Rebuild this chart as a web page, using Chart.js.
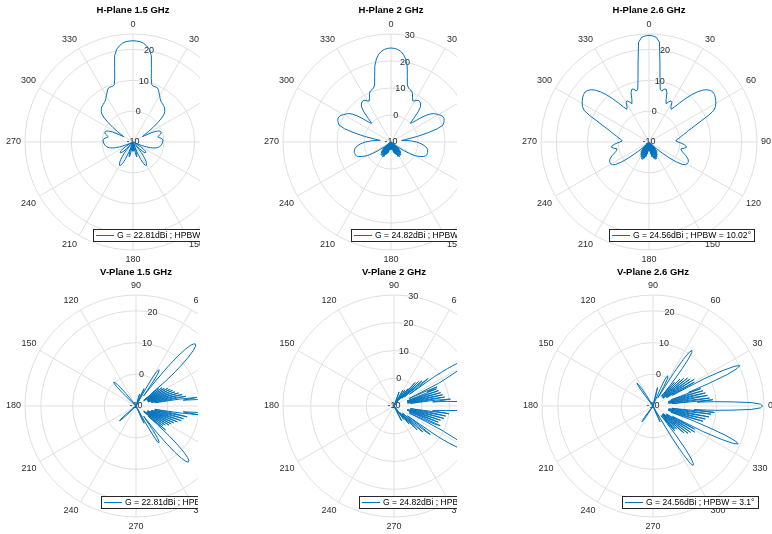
<!DOCTYPE html>
<html>
<head>
<meta charset="utf-8">
<script src="https://cdn.jsdelivr.net/npm/chart.js@4.4.1/dist/chart.umd.min.js"></script>
<style>
  html, body { margin: 0; padding: 0; background: #fff; }
  #fig { position: relative; width: 772px; height: 534px; overflow: hidden; background: #fff; }
  #fig canvas.ax { position: absolute; background: #fff; }
</style>
</head>
<body>
<div id="fig"></div>
<script>
// ---- chart text -------------------------------------------------------------
const panelTitles = [
  ['H-Plane 1.5 GHz', 'H-Plane 2 GHz', 'H-Plane 2.6 GHz'],
  ['V-Plane 1.5 GHz', 'V-Plane 2 GHz', 'V-Plane 2.6 GHz']
];
const peakGain = [22.81, 24.82, 24.56];      // dBi, per frequency
const hpbwH = [17.36, 13.03, 10.02];          // deg, H-plane
const hpbwV = [5.44, 4.12, 3.1];              // deg, V-plane

// ---- axes -------------------------------------------------------------------
const rMaxByFreq = [25, 30, 25];
const rRingsByFreq = [[-10, 0, 10, 20, 25], [-10, 0, 10, 20, 30], [-10, 0, 10, 20, 25]];
const rTickLabelsByFreq = [[-10, 0, 10, 20], [-10, 0, 10, 20, 30], [-10, 0, 10, 20]];
const thetaTickLabels = [0, 30, 60, 90, 120, 150, 180, 210, 240, 270, 300, 330];

// H-plane cut: 2 deg sampling, 0 deg at top, clockwise
const hAngles = Array.from({length: 180}, (_, i) => 2 * i);
// V-plane cut: 1 deg sampling, 0 deg at right, counter-clockwise
// (listed in drawing order, starting from 90 deg at the top)
const vAngles = Array.from({length: 360}, (_, i) => (450 - i) % 360);

// ---- gain patterns (dBi) -----------------------------------------------------
// H-plane, index k -> angle 2k
const hGain15 = [
  22.81, 22.75, 22.6, 22.2, 21.5, 20.5, 18.6, 14.6, 11.5, 9.6,
  9.2, 9.3, 9.3, 8.8, 8.0, 7.3, 6.6, 6.1, 5.8, 5.6,
  5.4, 5.2, 4.8, 4.3, 3.6, 2.2, 0.2, -2.0, -4.0, -5.5,
  -6.5, -5.0, -2.5, -1.2, -0.6, -0.4, -0.4, -0.7, -1.3, -1.8,
  -1.5, -0.9, -0.5, -0.3, -0.3, -0.4, -0.5, -0.6, -0.8, -1.0,
  -1.3, -1.7, -2.2, -3.0, -4.0, -5.3, -7.0, -8.8, -10, -10,
  -8.5, -7.0, -6.0, -5.3, -4.8, -4.6, -4.8, -5.5, -7.0, -9.0,
  -8.0, -5.5, -3.8, -2.5, -1.7, -1.3, -1.4, -2.2, -3.8, -6.5,
  -10, -7.0, -5.5, -5.0, -6.0, -8.5, -10, -7.5, -7.0, -9.0,
  -10,
  -9.0, -7.0, -7.5, -10, -8.5, -6.0, -5.0, -5.5, -7.0, -10,
  -6.5, -3.8, -2.2, -1.4, -1.3, -1.7, -2.5, -3.8, -5.5, -8.0,
  -9.0, -7.0, -5.5, -4.8, -4.6, -4.8, -5.3, -6.0, -7.0, -8.5,
  -10, -10, -8.8, -7.0, -5.3, -4.0, -3.0, -2.2, -1.7, -1.3,
  -1.0, -0.8, -0.6, -0.5, -0.4, -0.3, -0.3, -0.5, -0.9, -1.5,
  -1.8, -1.3, -0.7, -0.4, -0.4, -0.6, -1.2, -2.5, -5.0, -6.5,
  -5.5, -4.0, -2.0, 0.2, 2.2, 3.6, 4.3, 4.8, 5.2, 5.4,
  5.6, 5.8, 6.1, 6.6, 7.3, 8.0, 8.8, 9.3, 9.3, 9.2,
  9.6, 11.5, 14.6, 18.6, 20.5, 21.5, 22.2, 22.6, 22.75
];
const hGain20 = [
  24.82, 24.7, 24.4, 23.8, 22.8, 21.2, 18.8, 15.0, 12.0, 11.0,
  10.6, 10.4, 9.6, 8.2, 7.2, 7.6, 8.2, 8.5, 8.3, 7.8,
  7.0, 5.0, 2.0, 0.0, 0.8, 3.0, 5.5, 7.5, 8.8, 9.6,
  10.3, 11.0, 11.4, 11.5, 11.2, 10.8, 10.2, 8.0, 4.0, 0.0,
  -4.0, -6.0, -5.0, -3.0, -2.0, -0.5, 0.5, 1.5, 2.3, 3.0,
  3.5, 3.8, 4.0, 4.1, 4.1, 4.0, 3.8, 3.2, 2.3, 1.2,
  0.0, -2.0, -4.5, -7.0, -10, -6.0, -10, -5.0, -10, -4.5,
  -10, -4.0, -10, -4.0, -10, -3.7, -10, -4.0, -10, -5.0,
  -10, -5.5, -10, -6.0, -10, -7.0, -10, -7.0, -10, -8.0,
  -10,
  -8.0, -10, -7.0, -10, -7.0, -10, -6.0, -10, -5.5, -10,
  -5.0, -10, -4.0, -10, -3.7, -10, -4.0, -10, -4.0, -10,
  -4.5, -10, -5.0, -10, -6.0, -10, -7.0, -4.5, -2.0, 0.0,
  1.2, 2.3, 3.2, 3.8, 4.0, 4.1, 4.1, 4.0, 3.8, 3.5,
  3.0, 2.3, 1.5, 0.5, -0.5, -2.0, -3.0, -5.0, -6.0, -4.0,
  0.0, 4.0, 8.0, 10.2, 10.8, 11.2, 11.5, 11.4, 11.0, 10.3,
  9.6, 8.8, 7.5, 5.5, 3.0, 0.8, 0.0, 2.0, 5.0, 7.0,
  7.8, 8.3, 8.5, 8.2, 7.6, 7.2, 8.2, 9.6, 10.4, 10.6,
  11.0, 12.0, 15.0, 18.8, 21.2, 22.8, 23.8, 24.4, 24.7
];
const hGain26 = [
  24.56, 24.4, 24.0, 22.5, 15.5, 10.5, 7.5, 7.0, 7.8, 8.0,
  7.0, 4.8, 3.6, 4.4, 5.1, 4.8, 3.4, 2.8, 4.0, 6.0,
  8.3, 10.6, 12.6, 14.2, 15.3, 16.0, 16.3, 16.2, 15.9, 15.5,
  15.0, 14.4, 13.4, 11.0, 8.2, 6.2, 4.6, 3.2, 2.3, 1.4,
  0.6, 0.0, -0.6, -1.1, -1.3, -0.6, 0.4, 1.3, 2.0, 2.3,
  1.6, 0.6, 0.8, 1.2, 1.8, 2.6, 3.3, 3.9, 4.2, 4.3,
  4.2, 3.9, 3.0, 1.0, -1.5, -4.5, -7.0, -10, -7.0, -10,
  -6.0, -10, -5.5, -10, -5.0, -10, -4.5, -10, -4.0, -10,
  -4.0, -10, -4.5, -10, -5.0, -10, -6.0, -10, -7.0, -10,
  -10,
  -10, -7.0, -10, -6.0, -10, -5.0, -10, -4.5, -10, -4.0,
  -10, -4.0, -10, -4.5, -10, -5.0, -10, -5.5, -10, -6.0,
  -10, -7.0, -10, -7.0, -4.5, -1.5, 1.0, 3.0, 3.9, 4.2,
  4.3, 4.2, 3.9, 3.3, 2.6, 1.8, 1.2, 0.8, 0.6, 1.6,
  2.3, 2.0, 1.3, 0.4, -0.6, -1.3, -1.1, -0.6, 0.0, 0.6,
  1.4, 2.3, 3.2, 4.6, 6.2, 8.2, 11.0, 13.4, 14.4, 15.0,
  15.5, 15.9, 16.2, 16.3, 16.0, 15.3, 14.2, 12.6, 10.6, 8.3,
  6.0, 4.0, 2.8, 3.4, 4.8, 5.1, 4.4, 3.6, 4.8, 7.0,
  8.0, 7.8, 7.0, 7.5, 10.5, 15.5, 22.5, 24.0, 24.4
];

// V-plane, index = angle in deg (0..359)
const vGain15 = [
  22.81, 22.4, 21.4, 19.5, 17.0, 13.5, 9.5, 5.0, 9.4, 4.0,
  -4.0, 6.0, 3.0, -5.0, 5.0, 1.0, -5.0, 4.0, 0.0, -6.0,
  3.0, -1.0, -6.0, 2.5, -2.0, -6.0, 2.0, -3.0, -6.0, 1.5,
  -4.0, -6.0, 0.5, -4.0, -7.0, 0.0, -5.0, -7.0, -1.0, -4.0,
  2.0, 6.0, 9.5, 12.5, 15.0, 16.5, 17.1, 16.8, 15.8, 13.8,
  10.5, 6.0, 0.0, -6.0, -4.0, 0.0, 2.5, 3.4, 3.5, 2.5,
  0.0, -5.0, -10, -8.0, -5.0, -4.0, -6.0, -10, -10, -10,
  -10, -10, -8.0, -6.0, -7.0, -10, -10, -10, -10, -10,
  -10, -10, -10, -10, -10, -10, -10, -10, -10, -10,
  -10, -10, -10, -10, -10, -10, -10, -10, -10, -10,
  -10, -10, -10, -10, -10, -10, -10, -10, -10, -10,
  -10, -10, -10, -10, -10, -10, -10, -10, -10, -10,
  -10, -10, -10, -10, -10, -10, -10, -10, -8.0, -5.0,
  -2.5, -1.0, 0.0, 0.3, 0.0, -1.5, -4.0, -8.0, -10, -10,
  -10, -10, -10, -10, -10, -10, -10, -10, -10, -10,
  -10, -10, -10, -10, -10, -10, -10, -10, -10, -10,
  -10, -10, -10, -10, -10, -10, -10, -10, -10, -10,
  -10, -10, -10, -10, -10, -10, -10, -10, -10, -10,
  -10, -10, -10, -10, -10, -10, -10, -10, -10, -10,
  -10, -10, -10, -10, -10, -10, -10, -10, -10, -10,
  -10, -10, -10, -10, -10, -10, -10, -10, -10, -10,
  -10, -10, -10, -10, -10, -10, -10, -10, -10, -8.0,
  -5.0, -3.5, -3.0, -3.5, -5.5, -9.0, -10, -10, -10, -10,
  -10, -10, -10, -10, -10, -10, -10, -10, -10, -10,
  -10, -10, -10, -10, -10, -10, -10, -10, -10, -10,
  -10, -10, -10, -10, -10, -10, -10, -10, -10, -10,
  -10, -10, -10, -10, -10, -10, -10, -10, -10, -10,
  -10, -10, -10, -10, -10, -10, -10, -10, -10, -10,
  -10, -10, -10, -10, -10, -10, -10, -10, -10, -10,
  -10, -10, -10, -10, -6.0, -4.0, -4.5, -8.0, -10, -5.0,
  0.0, 3.0, 3.7, 3.3, 2.0, -1.0, -5.0, -6.0, 0.0, 5.0,
  9.0, 11.8, 13.5, 14.2, 14.0, 13.0, 11.0, 8.0, 4.0, -1.0,
  -5.0, 2.0, -4.0, -7.0, 0.5, -4.0, -7.0, 1.0, -3.0, -6.0,
  2.0, -2.0, -6.0, 2.5, -1.0, -6.0, 3.0, -1.0, -6.0, 4.0,
  0.5, -5.0, 5.0, 1.0, -5.0, 5.5, 2.0, -4.0, 6.5, 2.0,
  -4.0, 4.0, 9.7, 5.0, 9.5, 13.5, 17.0, 19.5, 21.4, 22.4
];
const vGain20 = [
  24.82, 24.3, 22.0, 18.0, 13.0, 9.0, 4.0, 10.5, 5.0, -4.0,
  8.5, 4.0, -5.0, 8.0, 3.0, -5.0, 7.5, 2.0, -5.0, 7.0,
  1.0, -5.0, 6.5, 3.0, 7.0, 2.0, -4.0, 8.0, 12.0, 16.5,
  19.0, 20.0, 20.2, 19.5, 17.5, 13.5, 8.0, -3.0, 3.5, 5.7,
  1.0, -5.0, 3.5, -2.0, -6.0, 2.5, -3.0, -6.0, 1.4, -3.0,
  -7.0, -2.0, -5.0, -8.0, -10, -4.0, -3.0, -8.0, -10, -10,
  -5.0, -3.5, -6.0, -10, -10, -10, -10, -10, -10, -7.0,
  -4.6, -7.0, -10, -10, -10, -10, -10, -10, -10, -10,
  -10, -10, -10, -10, -10, -10, -10, -10, -10, -10,
  -10, -10, -10, -10, -10, -10, -10, -10, -10, -10,
  -10, -10, -10, -10, -10, -10, -10, -10, -10, -10,
  -10, -10, -10, -10, -10, -10, -10, -10, -10, -10,
  -10, -10, -10, -10, -10, -10, -10, -10, -10, -10,
  -10, -10, -10, -10, -10, -10, -10, -10, -10, -10,
  -10, -10, -10, -10, -10, -10, -10, -10, -10, -10,
  -10, -10, -10, -10, -10, -10, -10, -10, -10, -10,
  -10, -10, -10, -10, -10, -10, -10, -10, -10, -10,
  -10, -10, -10, -10, -10, -10, -10, -10, -10, -10,
  -10, -10, -10, -10, -10, -10, -10, -10, -10, -10,
  -10, -10, -10, -10, -10, -10, -10, -10, -10, -10,
  -10, -10, -10, -10, -10, -10, -10, -10, -10, -10,
  -10, -10, -10, -10, -10, -10, -10, -10, -10, -10,
  -10, -10, -10, -10, -10, -10, -10, -10, -10, -10,
  -10, -10, -10, -10, -10, -10, -10, -10, -10, -10,
  -10, -10, -10, -10, -10, -10, -10, -10, -10, -10,
  -10, -10, -10, -10, -10, -10, -10, -10, -10, -10,
  -10, -10, -10, -10, -10, -10, -10, -10, -10, -10,
  -10, -10, -10, -10, -10, -10, -10, -10, -10, -10,
  -10, -10, -10, -10, -10, -10, -10, -10, -10, -10,
  -10, -10, -10, -10, -10, -10, -6.0, -4.0, -6.0, -10,
  -10, -10, -10, -10, -10, -7.0, -4.0, -6.0, -10, -4.0,
  -1.5, -4.0, -7.0, -2.0, 2.0, -3.0, -6.0, 1.0, 4.0, -2.0,
  -6.0, 5.0, 6.6, 1.0, -4.0, 9.0, 14.0, 17.5, 19.5, 20.5,
  20.2, 18.5, 15.0, 10.0, 3.0, -4.0, 6.0, 8.1, 2.0, -4.0,
  7.0, 2.0, -5.0, 7.5, 2.0, -5.0, 8.5, 3.0, -4.0, 9.0,
  4.0, -4.0, 10.0, 4.0, 5.0, 9.0, 13.0, 18.0, 22.0, 24.3
];
const vGain26 = [
  24.56, 23.9, 21.0, 15.0, 9.5, 4.0, 9.0, -4.0, 8.0, 2.0,
  -5.0, 7.5, 3.0, -5.0, 7.0, 2.0, -5.0, 6.5, 1.0, -4.0,
  6.0, 2.0, 9.0, 15.5, 19.0, 20.2, 18.5, 14.5, 8.5, -3.0,
  5.0, 0.0, -5.0, 5.5, 0.0, -5.0, 4.5, -1.0, -6.0, 4.0,
  -2.0, -6.0, 3.0, -3.0, -6.0, 2.0, -4.0, -5.0, 0.0, -6.0,
  -3.0, 1.0, 5.0, 8.5, 10.8, 11.4, 10.5, 7.5, 2.0, -6.0,
  -7.0, -3.0, -0.5, 0.3, 0.6, 0.3, -1.0, -4.0, -8.0, -10,
  -10, -10, -10, -10, -10, -6.0, -4.0, -5.0, -9.0, -10,
  -10, -10, -10, -10, -10, -10, -10, -10, -10, -10,
  -10, -10, -10, -10, -10, -10, -10, -10, -10, -10,
  -10, -10, -10, -10, -10, -10, -10, -10, -10, -10,
  -10, -10, -10, -10, -10, -10, -10, -10, -10, -10,
  -10, -9.0, -6.0, -3.5, -1.8, -1.2, -1.8, -4.0, -8.0, -10,
  -10, -10, -10, -10, -10, -10, -10, -10, -10, -10,
  -10, -10, -10, -10, -10, -10, -10, -10, -10, -10,
  -10, -10, -10, -10, -10, -10, -10, -10, -10, -10,
  -10, -10, -10, -10, -10, -10, -10, -10, -10, -10,
  -10, -10, -10, -10, -10, -10, -10, -10, -10, -10,
  -10, -10, -10, -10, -10, -10, -10, -10, -10, -10,
  -10, -10, -10, -10, -10, -10, -10, -10, -10, -10,
  -10, -10, -10, -10, -10, -10, -10, -10, -10, -10,
  -10, -10, -10, -10, -10, -10, -10, -10, -10, -10,
  -10, -10, -10, -10, -10, -10, -10, -10, -10, -10,
  -10, -10, -8.0, -5.5, -4.2, -3.9, -4.5, -7.0, -10, -10,
  -10, -10, -10, -10, -10, -10, -10, -10, -10, -10,
  -10, -10, -10, -10, -10, -10, -10, -10, -10, -10,
  -10, -10, -10, -10, -10, -10, -10, -10, -10, -10,
  -10, -10, -10, -10, -10, -10, -10, -10, -10, -10,
  -10, -10, -10, -10, -10, -10, -10, -10, -10, -10,
  -10, -10, -10, -6.0, -4.5, -6.0, -10, -10, -10, -10,
  -6.0, 2.0, 8.0, 11.5, 12.6, 12.2, 10.5, 7.0, 2.0, -3.0,
  -6.0, 0.3, -5.0, 0.0, -6.0, -5.0, 0.3, -6.0, -3.0, 3.0,
  -6.0, -2.0, 4.0, -6.0, -1.0, 4.5, -5.0, 0.0, 5.5, -5.0,
  0.0, 5.0, -3.0, 8.0, 14.0, 18.0, 19.4, 18.3, 14.5, 8.5,
  3.0, -4.0, 1.0, 6.5, -5.0, 2.0, 7.0, -5.0, 2.5, 8.0,
  -5.0, 2.0, 8.5, -4.0, 9.5, 3.0, 9.5, 15.0, 21.0, 23.9
];

const hSeries = [hGain15, hGain20, hGain26];
const vSeries = [vGain15, vGain20, vGain26];

// ---- figure layout (pixels) -------------------------------------------------
const rowBox = [
  {top: 0,   height: 264, cy: 142, R: 108, titleY: 10.3},
  {top: 264, height: 270, cy: 406, R: 111, titleY: 272.3}
];
const colLeft  = [[0, 200, 457], [0, 198, 457]];
const colWidth = [[260, 390, 315], [260, 390, 315]];
const centerX  = [[133, 391, 649], [136, 394, 653]];

const FONT = '"Liberation Sans", Arial, Helvetica, sans-serif';
const BLUE = '#0072BD';
const GRID = '#dfdfdf';
const LABEL = '#2b2b2b';
Chart.defaults.font.family = FONT;

// Theta / r tick labels and the in-axes legend box
const polarDecor = {
  id: 'polarDecor',
  beforeDatasetsDraw(chart, args, o) {
    const s = chart.scales.r, ctx = chart.ctx;
    ctx.save();
    ctx.fillStyle = LABEL;
    ctx.font = o.fontSize + 'px ' + FONT;
    ctx.textBaseline = 'middle';
    const h = o.fontSize * 1.2;
    chart.data.labels.forEach((lab, i) => {
      if (!thetaTickLabels.includes(lab)) return;
      const deg = Math.round(s.getIndexAngle(i) * 180 / Math.PI) % 360;
      const p = s.getPointPosition(i, s.drawingArea + o.labelPad);
      let y = p.y;
      if (deg === 90 || deg === 270) { /* centred vertically */ }
      else if (deg > 270 || deg < 90) y -= h / 2;
      else y += h / 2;
      ctx.textAlign = (deg === 0 || deg === 180) ? 'center' : (deg < 180 ? 'left' : 'right');
      ctx.fillText(String(lab), p.x, y);
    });
    const a = o.rLabelAngle * Math.PI / 180;
    ctx.textAlign = 'center';
    o.rTicks.forEach(v => {
      const d = s.getDistanceFromCenterForValue(v);
      ctx.fillText(String(v), s.xCenter + d * Math.sin(a), s.yCenter - d * Math.cos(a));
    });
    ctx.restore();
  },
  afterDraw(chart, args, o) {
    const s = chart.scales.r, ctx = chart.ctx;
    ctx.save();
    ctx.font = o.legendFontSize + 'px ' + FONT;
    const tw = ctx.measureText(o.legendText).width;
    const w = Math.round(24 + tw + 3), hh = 12;
    const right = s.xCenter + 105;
    const bottom = s.yCenter + s.drawingArea - 9;
    const x0 = Math.round(right - w), y0 = Math.round(bottom - hh);
    ctx.fillStyle = '#fff';
    ctx.fillRect(x0, y0, w, hh);
    ctx.strokeStyle = '#262626';
    ctx.lineWidth = 1;
    ctx.strokeRect(x0 + 0.5, y0 + 0.5, w, hh);
    ctx.strokeStyle = BLUE;
    ctx.beginPath();
    ctx.moveTo(x0 + 3, y0 + hh / 2 + 0.5);
    ctx.lineTo(x0 + 21, y0 + hh / 2 + 0.5);
    ctx.stroke();
    ctx.fillStyle = '#000';
    ctx.textAlign = 'left';
    ctx.textBaseline = 'middle';
    ctx.fillText(o.legendText, x0 + 24, y0 + hh / 2 + 1);
    ctx.restore();
  }
};

const fig = document.getElementById('fig');

function makePanel(row, col) {
  const L = rowBox[row];
  const left = colLeft[row][col], width = colWidth[row][col];
  const cx = centerX[row][col] - left;
  const cy = L.cy - L.top;
  const R = L.R;
  const titleSize = 9.5, lh = titleSize * 1.2;
  const pt = (L.titleY - L.top) - lh / 2;
  const pb = (cy - R) - pt - lh;

  const canvas = document.createElement('canvas');
  canvas.className = 'ax';
  canvas.width = width;
  canvas.height = L.height;
  canvas.style.left = left + 'px';
  canvas.style.top = L.top + 'px';
  fig.appendChild(canvas);

  const isH = row === 0;
  const labels = isH ? hAngles : vAngles;
  const data = isH ? hSeries[col] : vAngles.map(a => vSeries[col][a]);
  const hpbw = isH ? hpbwH[col] : hpbwV[col];
  const rings = rRingsByFreq[col];

  new Chart(canvas, {
    type: 'radar',
    data: {
      labels: labels,
      datasets: [{
        data: data,
        borderColor: BLUE,
        borderWidth: 1,
        pointRadius: 0,
        pointHoverRadius: 0,
        fill: false,
        tension: 0
      }]
    },
    options: {
      responsive: false,
      maintainAspectRatio: false,
      animation: false,
      events: [],
      layout: {
        padding: {
          left: cx - R,
          right: width - (cx + R),
          top: 0,
          bottom: L.height - (cy + R)
        }
      },
      scales: {
        r: {
          min: -10,
          max: rMaxByFreq[col],
          afterBuildTicks: (scale) => { scale.ticks = rings.map(v => ({value: v})); },
          ticks: { display: false },
          pointLabels: { display: false },
          grid: { circular: true, color: GRID, lineWidth: 1 },
          angleLines: {
            display: true,
            color: GRID,
            lineWidth: (c) => (thetaTickLabels.includes(labels[c.index]) ? 1 : 0)
          }
        }
      },
      plugins: {
        legend: { display: false },
        tooltip: { enabled: false },
        title: {
          display: true,
          text: panelTitles[row][col],
          color: '#000',
          font: { size: titleSize, weight: 'bold', family: FONT, lineHeight: 1.2 },
          padding: { top: pt, bottom: pb }
        },
        polarDecor: {
          fontSize: 9,
          labelPad: 4,
          rLabelAngle: 10,
          rTicks: rTickLabelsByFreq[col],
          legendFontSize: 8.6,
          legendText: 'G = ' + peakGain[col].toFixed(2) + 'dBi ; HPBW = ' + hpbw + '\u00B0'
        }
      }
    },
    plugins: [polarDecor]
  });
}

// draw left to right so each axes' white box overlaps its left neighbour
for (let col = 0; col < 3; col++) {
  for (let row = 0; row < 2; row++) makePanel(row, col);
}
</script>
</body>
</html>
